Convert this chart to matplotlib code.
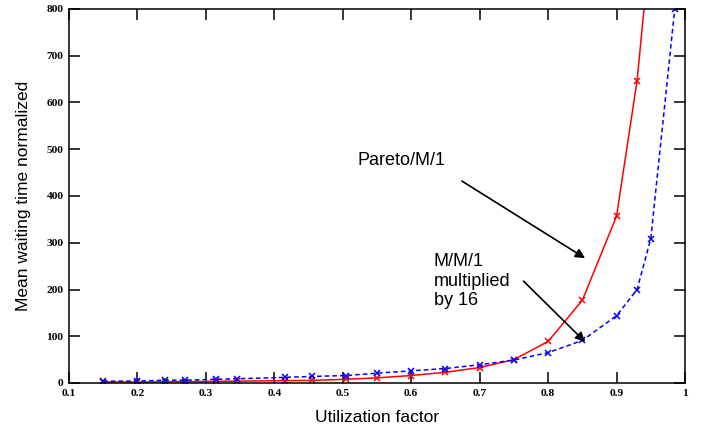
import matplotlib
matplotlib.use("Agg")
import matplotlib.pyplot as plt

# Data
util = [0.15, 0.20, 0.24, 0.27, 0.315, 0.345, 0.415, 0.455, 0.505, 0.55,
        0.60, 0.65, 0.70, 0.75, 0.80, 0.85, 0.90, 0.93, 0.95, 0.985]
pareto_m1 = [2, 2, 2.5, 3, 3.5, 4, 5, 5.5, 8, 11,
             16, 23, 33, 50, 89, 177, 357, 647, 950, 2500]
mm1_x16 = [4, 4, 6, 6, 8, 9, 12, 14, 16, 21,
           26, 31, 39, 49, 65, 91, 144, 200, 309, 800]

xticks = [0.1, 0.2, 0.3, 0.4, 0.5, 0.6, 0.7, 0.8, 0.9, 1]
xticklabels = ["0.1", "0.2", "0.3", "0.4", "0.5", "0.6", "0.7", "0.8", "0.9", "1"]
yticks = [0, 100, 200, 300, 400, 500, 600, 700, 800]

fig = plt.figure(figsize=(7.02, 4.33), dpi=100)
ax = fig.add_axes([69/702, 1-383/433, 616/702, 374/433])

ax.plot(util, pareto_m1, color="red", lw=1.1, marker="x", ms=5, mew=1.1,
        clip_on=True)
ax.plot(util, mm1_x16, color="blue", lw=1.1, ls=(0, (3, 2)), marker="x", ms=5,
        mew=1.1, clip_on=True)

ax.set_xlim(0.1, 1.0)
ax.set_ylim(0, 800)
ax.set_xticks(xticks)
ax.set_xticklabels(xticklabels)
ax.set_yticks(yticks)

tickfont = dict(family="Liberation Serif", weight="bold", size=8.2)
for lab in ax.get_xticklabels() + ax.get_yticklabels():
    lab.set_fontproperties(matplotlib.font_manager.FontProperties(**tickfont))

ax.tick_params(direction="in", length=8, width=1.1, top=True, right=True,
               pad=4)
for s in ax.spines.values():
    s.set_linewidth(1.1)

labfont = dict(family="Liberation Sans", size=12.5)
ax.set_xlabel("Utilization factor", labelpad=9, **labfont)
ax.set_ylabel("Mean waiting time normalized", labelpad=11, **labfont)

ax.text(0.522, 477, "Pareto/M/1", ha="left", va="center",
        family="Liberation Sans", size=13)
ax.annotate("", xy=(0.854, 267), xytext=(0.674, 432),
            arrowprops=dict(arrowstyle="-|>", color="black", lw=1.2,
                            mutation_scale=14, shrinkA=0, shrinkB=0))

ax.text(0.633, 218, "M/M/1\nmultiplied\nby 16", ha="left", va="center",
        family="Liberation Sans", size=13, linespacing=1.2)
ax.annotate("", xy=(0.854, 88), xytext=(0.764, 218),
            arrowprops=dict(arrowstyle="-|>", color="black", lw=1.2,
                            mutation_scale=14, shrinkA=0, shrinkB=0))

fig.savefig("out.png", dpi=100)
